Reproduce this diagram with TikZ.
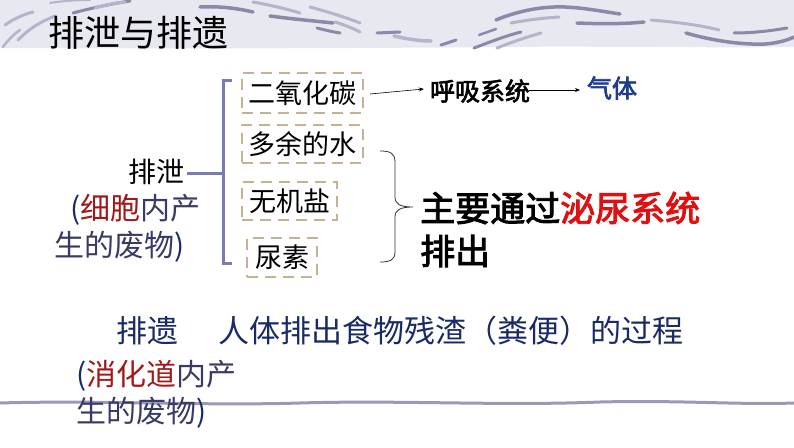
\documentclass[tikz,border=0pt]{standalone}
\usepackage{fontspec}
\setmainfont{Noto Sans CJK SC}
\newfontfamily\semib[FakeBold=2.6]{Noto Sans CJK SC}
\usetikzlibrary{arrows.meta}
\definecolor{hdr}{HTML}{E8E8F0}
\definecolor{swA}{HTML}{8A8AA8}
\definecolor{swB}{HTML}{B4B4CA}
\definecolor{tan}{HTML}{C4B393}
\definecolor{brk}{HTML}{7A7AB5}
\definecolor{navy}{HTML}{1A2A66}
\definecolor{gasblue}{HTML}{1E3C8C}
\definecolor{dred}{HTML}{A01818}
\definecolor{bred}{HTML}{E01010}
\definecolor{grayn}{HTML}{3A3A66}
\definecolor{wave}{HTML}{9A9AB8}
\tikzset{
  dbox/.style={draw=tan, line width=2.2pt, dash pattern=on 11pt off 7pt, inner sep=0pt, font=\fontsize{27}{27}\selectfont},
  brkline/.style={draw=brk, line width=3pt},
  thinarrow/.style={draw=black, line width=0.6pt, -{Stealth[length=5pt,width=4pt]}},
  swa/.style={line cap=round, draw=swA, line width=3pt},
  swb/.style={line cap=round, draw=swB, line width=3pt},
  side/.style={anchor=west, font=\fontsize{30}{30}\selectfont, inner sep=0pt, text=grayn},
}
\begin{document}
\begin{tikzpicture}[x=1pt,y=-1pt]
\useasboundingbox (0,0) rectangle (794,447);
\fill[white] (0,0) rectangle (794,447);
% header band
\fill[hdr] (0,0) -- (794,0) -- (794,47) .. controls (700,48) and (600,46) .. (500,47) .. controls (400,48) and (200,49) .. (0,48) -- cycle;
% swooshes left
\draw[swb] (5,25) .. controls (15,18) and (25,14) .. (33,12);
\draw[swb, line width=2.5pt] (3,47) .. controls (8,40) and (14,34) .. (20,30);
\draw[swb] (18,40) .. controls (30,28) and (40,22) .. (55,16);
\draw[swb, line width=2pt] (50,3) .. controls (62,1) and (76,0) .. (90,0);
\draw[swa] (73,13) .. controls (92,8) and (110,4) .. (130,1);
\draw[swb] (95,8) .. controls (105,5) and (115,3) .. (125,2);
% swooshes middle
\draw[swa, line width=3.5pt] (200,7) .. controls (218,6) and (236,8) .. (253,12);
\draw[swb] (253,2) .. controls (270,5) and (287,9) .. (300,13);
\draw[swa, line width=3.5pt] (270,16) .. controls (292,19) and (315,21) .. (333,23);
\draw[swb] (310,7) .. controls (328,12) and (345,17) .. (360,23);
\draw[swa] (317,28) .. controls (325,30) and (333,32) .. (340,33);
\draw[swb] (335,22) .. controls (345,25) and (352,28) .. (360,32);
\draw[swa] (377,33) -- (400,32);
\draw[swb, line width=3.5pt] (394,36) .. controls (407,39) and (420,41) .. (431,41);
\draw[swa] (441,45) -- (456,40);
\draw[swa, line width=2.5pt] (479,35) -- (496,29);
\draw[swa, line width=3pt] (474,48) .. controls (490,42) and (505,36) .. (521,32);
\draw[swb] (497,48) .. controls (512,42) and (527,37) .. (541,33);
\draw[swa, line width=3.5pt] (496,20) .. controls (515,12) and (540,6) .. (565,7) .. controls (585,8) and (600,11) .. (620,14);
\draw[swb, line width=3pt] (511,23) .. controls (527,20) and (543,18) .. (559,17);
\draw[swa, line width=3.5pt] (577,23) .. controls (600,24) and (625,24) .. (644,22);
\draw[swb, line width=3pt] (651,20) .. controls (675,22) and (700,25) .. (719,30);
\draw[swa, line width=3.5pt] (686,33) .. controls (710,40) and (740,45) .. (765,44) .. controls (778,43) and (788,40) .. (794,37);
\draw[swa, line width=3pt] (734,33) .. controls (752,33) and (770,31) .. (787,28);
\node[anchor=west, font=\fontsize{36}{36}\selectfont, inner sep=0pt] (title) at (48,33) {排泄与排遗};
% bottom wave
\draw[wave, line width=3pt] (0,403) .. controls (100,400) and (200,406) .. (300,403) .. controls (400,400) and (500,406) .. (600,402) .. controls (680,400) and (740,405) .. (794,403);
% left label
\node[anchor=west, font=\fontsize{28}{28}\selectfont, inner sep=0pt] (px) at (128,172) {排泄};
\node[side] (px2) at (70,210) {\textcolor{navy}{(}\textcolor{dred}{细胞}内产};
\node[side] (px3) at (54,247) {生的废物\textcolor{navy}{)}};
% bracket
\coordinate (bt) at (232,80);
\coordinate (bb) at (232,263);
\coordinate (bm) at (223,173);
\coordinate (pxe) at (187,173);
\draw[brkline] (bt) -- (223,80) -- (223,263) -- (bb);
\draw[brkline] (pxe) -- (bm);
% boxes
\node[dbox, minimum width=121pt, minimum height=40pt] (b1) at (302.5,93) {二氧化碳};
\node[dbox, minimum width=121pt, minimum height=38pt] (b2) at (302.5,144) {多余的水};
\node[dbox, minimum width=95pt, minimum height=38pt] (b3) at (289.5,201) {无机盐};
\node[dbox, minimum width=70pt, minimum height=39pt] (b4) at (282,257.5) {尿素};
% right of box1
\node[font=\semib\fontsize{25}{25}\selectfont, inner sep=0pt] (hx) at (480,91) {呼吸系统};
\node[font=\semib\fontsize{25}{25}\selectfont, inner sep=0pt, text=gasblue] (qt) at (612,88) {气体};
\coordinate (a1s) at (370,94);
\coordinate (a2e) at (580,90);
\draw[thinarrow] (a1s) -- ([xshift=-6pt,yshift=2pt]hx.west);
\draw[thinarrow] ([xshift=-1pt,yshift=1pt]hx.east) -- (a2e);
% brace
\coordinate (brt) at (380,151);
\coordinate (brb) at (380,262);
\coordinate (brtip) at (413,207);
\draw[black!80, line width=0.8pt] (brt) .. controls (390,151) and (395,153) .. (395,162) -- (395,197) .. controls (395,204) and (400,207) .. (brtip)
  .. controls (400,207) and (395,210) .. (395,217) -- (395,252) .. controls (395,260) and (390,262) .. (brb);
\node[anchor=west, font=\semib\fontsize{35}{35}\selectfont, inner sep=0pt] (main1) at (420,208) {主要通过\textcolor{bred}{泌尿系统}};
\node[anchor=west, font=\semib\fontsize{35}{35}\selectfont, inner sep=0pt] (main2) at (420,251) {排出};
% paiyi
\node[anchor=west, font=\fontsize{31}{31}\selectfont, inner sep=0pt, text=navy] (py) at (116,331) {排遗};
\node[anchor=west, font=\fontsize{31}{31}\selectfont, inner sep=0pt, text=navy] (pyd) at (218,331) {人体排出食物残渣（粪便）的过程};
\node[side] (py2) at (76,376) {\textcolor{navy}{(}\textcolor{dred}{消化道}内产};
\node[side] (py3) at (76,413) {生的废物\textcolor{navy}{)}};
\end{tikzpicture}
\end{document}
